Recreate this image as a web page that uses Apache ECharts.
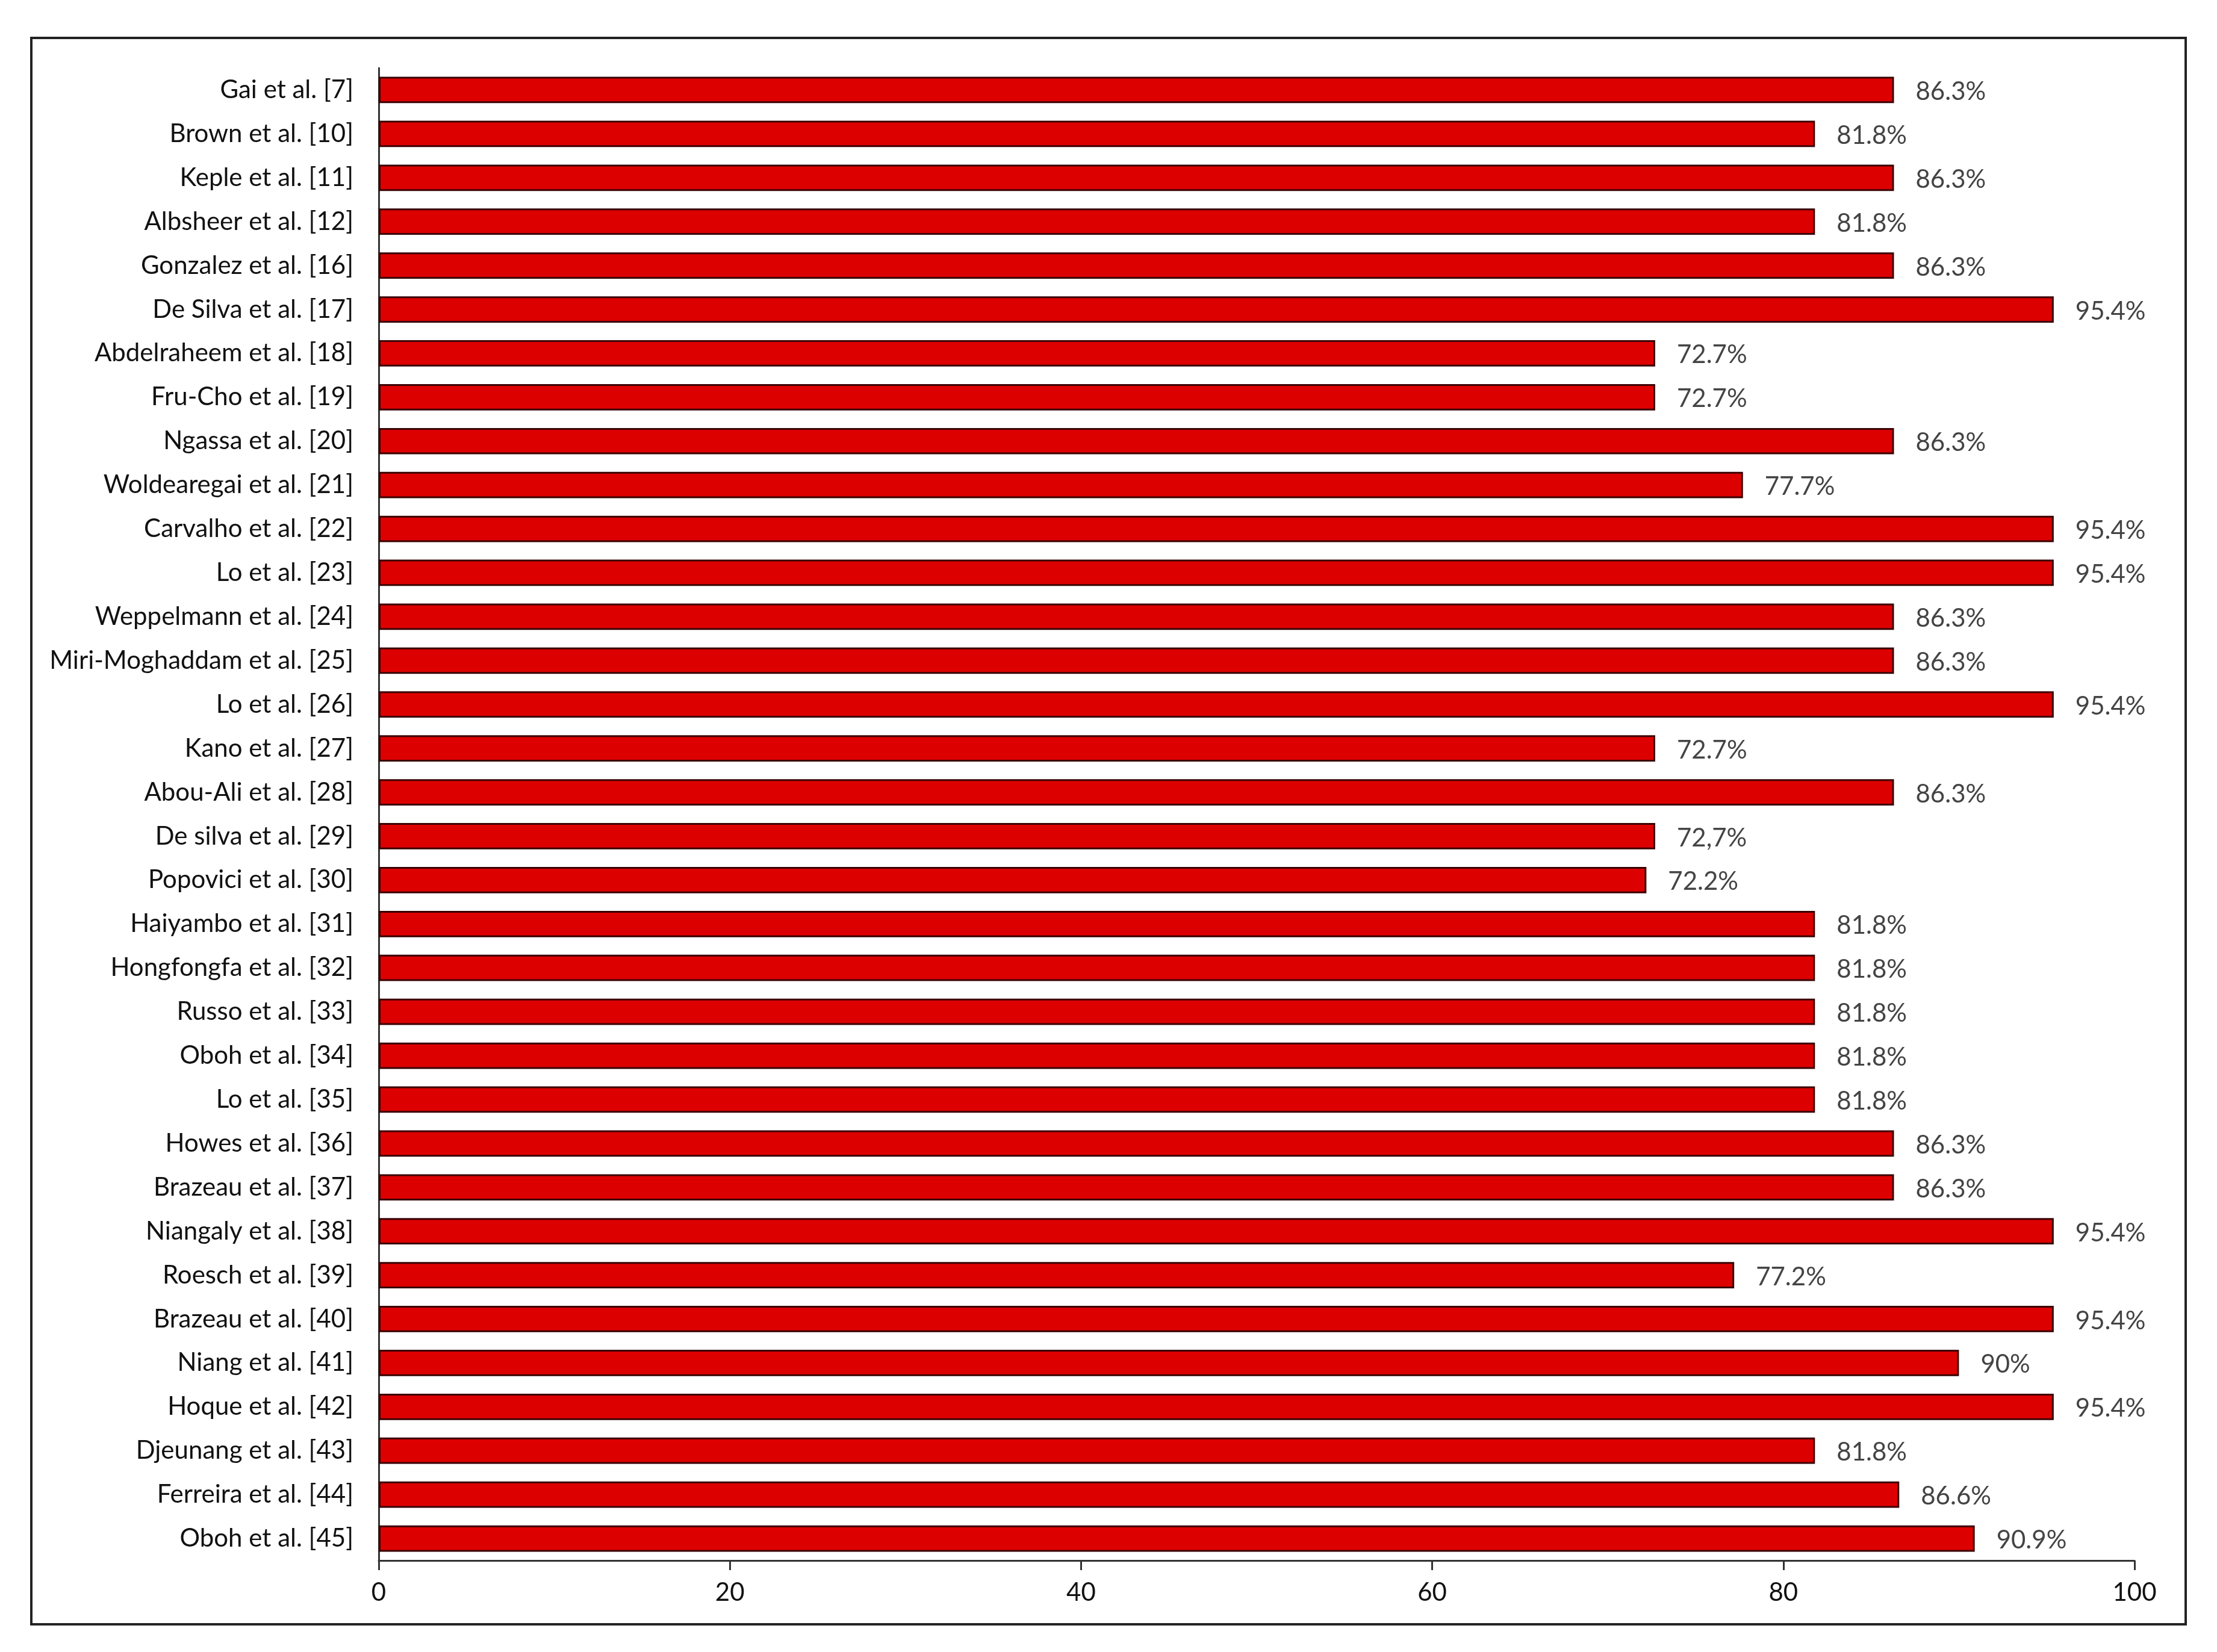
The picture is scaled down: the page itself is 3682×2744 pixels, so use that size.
<!DOCTYPE html>
<html>
<head>
<meta charset="utf-8">
<script src="https://cdn.jsdelivr.net/npm/echarts@6/dist/echarts.min.js"></script>
<style>
html,body{margin:0;padding:0;background:#fff;}
#chart{width:3682px;height:2744px;}
</style>
</head>
<body>
<div id="chart"></div>
<script>
const categories = [
  'Gai et al. [7]','Brown et al. [10]','Keple et al. [11]','Albsheer et al. [12]','Gonzalez et al. [16]',
  'De Silva et al. [17]','Abdelraheem et al. [18]','Fru-Cho et al. [19]','Ngassa et al. [20]','Woldearegai et al. [21]',
  'Carvalho et al. [22]','Lo et al. [23]','Weppelmann et al. [24]','Miri-Moghaddam et al. [25]','Lo et al. [26]',
  'Kano et al. [27]','Abou-Ali et al. [28]','De silva et al. [29]','Popovici et al. [30]','Haiyambo et al. [31]',
  'Hongfongfa et al. [32]','Russo et al. [33]','Oboh et al. [34]','Lo et al. [35]','Howes et al. [36]',
  'Brazeau et al. [37]','Niangaly et al. [38]','Roesch et al. [39]','Brazeau et al. [40]','Niang et al. [41]',
  'Hoque et al. [42]','Djeunang et al. [43]','Ferreira et al. [44]','Oboh et al. [45]'
];
const values = [
  86.3, 81.8, 86.3, 81.8, 86.3,
  95.4, 72.7, 72.7, 86.3, 77.7,
  95.4, 95.4, 86.3, 86.3, 95.4,
  72.7, 86.3, 72.7, 72.2, 81.8,
  81.8, 81.8, 81.8, 81.8, 86.3,
  86.3, 95.4, 77.2, 95.4, 90,
  95.4, 81.8, 86.6, 90.9
];
const valueLabels = [
  '86.3%','81.8%','86.3%','81.8%','86.3%',
  '95.4%','72.7%','72.7%','86.3%','77.7%',
  '95.4%','95.4%','86.3%','86.3%','95.4%',
  '72.7%','86.3%','72,7%','72.2%','81.8%',
  '81.8%','81.8%','81.8%','81.8%','86.3%',
  '86.3%','95.4%','77.2%','95.4%','90%',
  '95.4%','81.8%','86.6%','90.9%'
];
const xTicks = [0, 20, 40, 60, 80, 100];

const FONT = 'Lato';
const chart = echarts.init(document.getElementById('chart'));
chart.setOption({
  backgroundColor: '#fff',
  animation: false,
  graphic: [{
    type: 'rect',
    shape: { x: 52, y: 63, width: 3578, height: 2635 },
    style: { fill: 'none', stroke: '#222', lineWidth: 4 },
    z: 0
  }],
  grid: { left: 629, right: 137, top: 113, bottom: 152, containLabel: false },
  xAxis: {
    type: 'value',
    min: xTicks[0],
    max: xTicks[xTicks.length - 1],
    interval: 20,
    axisLine: { show: true, lineStyle: { color: '#333', width: 3 } },
    axisTick: { show: true, inside: false, length: 16, lineStyle: { color: '#333', width: 3 } },
    splitLine: { show: false },
    axisLabel: { color: '#111', fontSize: 42, fontFamily: FONT, margin: 32 }
  },
  yAxis: {
    type: 'category',
    data: categories,
    inverse: true,
    axisLine: { show: true, lineStyle: { color: '#333', width: 3 } },
    axisTick: { show: false },
    splitLine: { show: false },
    axisLabel: { color: '#111', fontSize: 42, fontFamily: FONT, margin: 42 }
  },
  series: [{
    type: 'bar',
    data: values,
    barCategoryGap: '40%',
    itemStyle: { color: '#dd0000', borderColor: '#3a0000', borderWidth: 3 },
    label: {
      show: true,
      position: 'right',
      distance: 36,
      color: '#444',
      fontSize: 42,
      fontFamily: FONT,
      offset: [0, 3],
      formatter: p => valueLabels[p.dataIndex]
    }
  }]
});
</script>
</body>
</html>
